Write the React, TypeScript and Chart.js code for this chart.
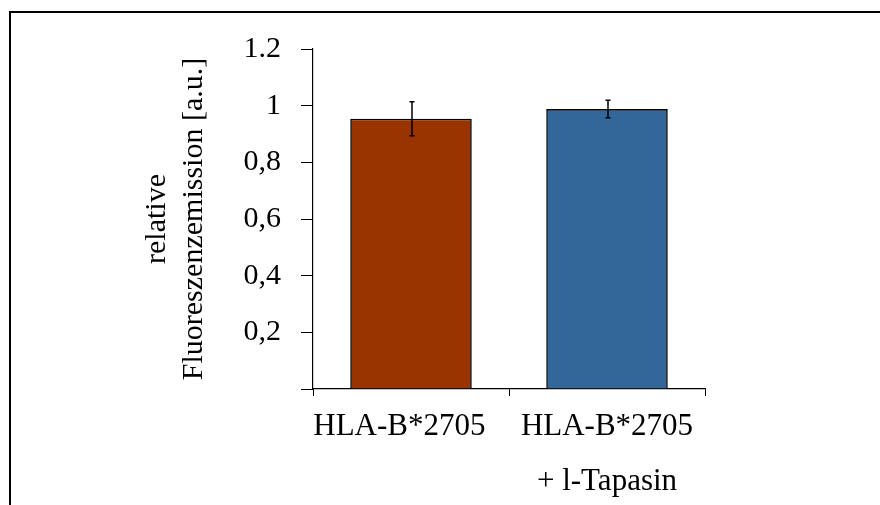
import React, { useEffect, useRef } from "react";
import { Chart, registerables } from "chart.js";

Chart.register(...registerables);

const categories: (string | string[])[] = ["HLA-B*2705   ", ["HLA-B*2705", "+ l-Tapasin"]];
const values = [0.954, 0.988];
const errors = [0.06, 0.031];
const barColors = ["#993300", "#336699"];
const yTickLabels = ["", "0,2", "0,4", "0,6", "0,8", "1", "1.2"];
const yTitle = ["relative", "Fluoreszenzemission [a.u.]"];

const FONT = "'Liberation Serif', 'Times New Roman', serif";

const errorBarPlugin = {
  id: "errorBars",
  afterDatasetsDraw(chart: any) {
    const ctx = chart.ctx;
    const meta = chart.getDatasetMeta(0);
    const yScale = chart.scales.y;
    ctx.save();
    ctx.strokeStyle = "#000";
    ctx.lineWidth = 1.5;
    meta.data.forEach((bar: any, i: number) => {
      const x = bar.x + 1;
      const yTop = yScale.getPixelForValue(values[i] + errors[i]);
      const yBot = yScale.getPixelForValue(values[i] - errors[i]);
      ctx.beginPath();
      ctx.moveTo(x, yTop);
      ctx.lineTo(x, yBot);
      ctx.moveTo(x - 2.5, yTop);
      ctx.lineTo(x + 2.5, yTop);
      ctx.moveTo(x - 2.5, yBot);
      ctx.lineTo(x + 2.5, yBot);
      ctx.stroke();
    });
    ctx.restore();
  },
};

export default function App() {
  const canvasRef = useRef<HTMLCanvasElement | null>(null);

  useEffect(() => {
    if (!canvasRef.current) return;
    const chart = new Chart(canvasRef.current, {
      type: "bar",
      data: {
        labels: categories,
        datasets: [
          {
            data: values,
            backgroundColor: barColors,
            borderColor: "#000",
            borderWidth: 1.6,
            barPercentage: 0.62,
            categoryPercentage: 1,
          },
        ],
      },
      options: {
        responsive: false,
        animation: false,
        layout: { padding: { top: 49, right: 175, bottom: 0, left: 0 } },
        plugins: {
          legend: { display: false },
          tooltip: { enabled: false },
        },
        scales: {
          x: {
            offset: true,
            grid: {
              offset: true,
              drawOnChartArea: false,
              drawTicks: true,
              tickLength: 7,
              color: "#000",
              lineWidth: 1,
            },
            border: { color: "#000", width: 1.2 },
            ticks: {
              color: "#000",
              padding: 3,
              maxRotation: 0,
              autoSkip: false,
              font: { family: FONT, size: 31, lineHeight: 1.774 },
            },
            afterFit: (scale: any) => {
              scale.height = 116;
            },
          },
          y: {
            min: 0,
            max: 1.2,
            grid: {
              drawOnChartArea: false,
              drawTicks: true,
              tickLength: 12,
              color: "#000",
              lineWidth: 1,
            },
            border: { color: "#000", width: 1.2 },
            ticks: {
              stepSize: 0.2,
              color: "#000",
              padding: 20,
              font: { family: FONT, size: 30 },
              callback: (value: any) => yTickLabels[Math.round(Number(value) / 0.2)] ?? "",
            },
            title: {
              display: true,
              text: yTitle,
              color: "#000",
              padding: { top: 138.5, bottom: 0 },
              font: { family: FONT, size: 30, lineHeight: 37 / 30 },
            },
            afterFit: (scale: any) => {
              scale.width = 313;
            },
          },
        },
      },
      plugins: [errorBarPlugin],
    });
    return () => chart.destroy();
  }, []);

  return (
    <div
      style={{
        position: "absolute",
        left: 0,
        top: 0,
        width: 880,
        height: 505,
        overflow: "hidden",
        background: "#fff",
      }}
    >
      <canvas ref={canvasRef} width={880} height={505} style={{ position: "absolute", left: 0, top: 0 }} />
      <div
        style={{
          position: "absolute",
          left: 9,
          top: 11,
          width: 900,
          height: 600,
          borderTop: "2px solid #000",
          borderLeft: "2px solid #000",
          pointerEvents: "none",
        }}
      />
    </div>
  );
}
